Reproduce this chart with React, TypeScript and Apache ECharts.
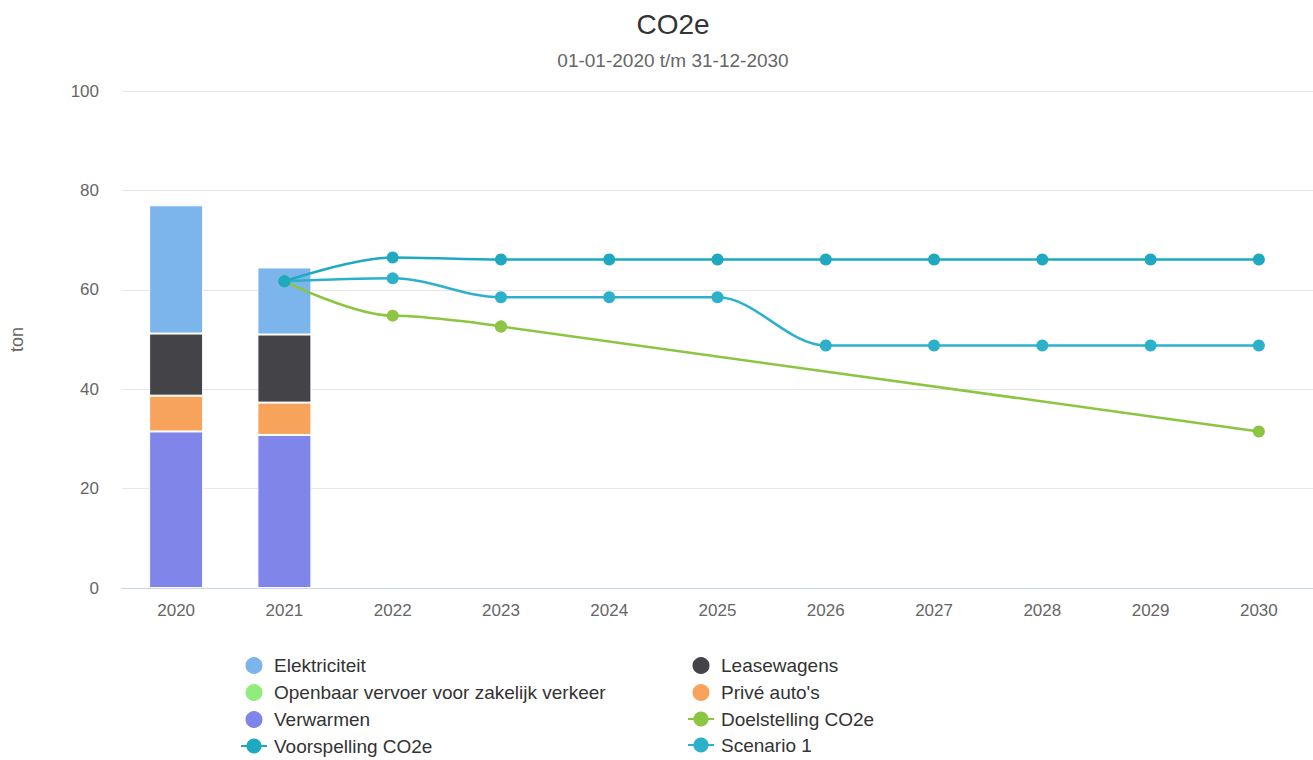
import React, { useEffect, useRef } from "react";
import * as echarts from "echarts";

const years = ["2020", "2021", "2022", "2023", "2024", "2025", "2026", "2027", "2028", "2029", "2030"];
const verwarmen = [31.5, 30.8, null, null, null, null, null, null, null, null, null];
const priveAutos = [7.2, 6.5, null, null, null, null, null, null, null, null, null];
const leasewagens = [12.5, 13.7, null, null, null, null, null, null, null, null, null];
const openbaarVervoer = [0, 0, null, null, null, null, null, null, null, null, null];
const elektriciteit = [25.8, 13.5, null, null, null, null, null, null, null, null, null];
const doelstelling = [null, 61.7, 54.8, 52.6, null, null, null, null, null, null, 31.5];
const voorspelling = [null, 61.7, 66.5, 66.1, 66.1, 66.1, 66.1, 66.1, 66.1, 66.1, 66.1];
const scenario1 = [null, 61.7, 62.3, 58.5, 58.5, 58.5, 48.8, 48.8, 48.8, 48.8, 48.8];

const COLORS = {
  elektriciteit: "#7cb5ec",
  leasewagens: "#434348",
  openbaar: "#90ed7d",
  prive: "#f7a35c",
  verwarmen: "#8085e9",
  doel: "#8bc541",
  voorspelling: "#1ea9c1",
  scenario: "#2db1cb",
};

const FONT = "Arial, Liberation Sans, sans-serif";

export default function App() {
  const ref = useRef<HTMLDivElement>(null);
  useEffect(() => {
    if (!ref.current) return;
    const chart = echarts.init(ref.current, undefined, { renderer: "svg" });
    const barBase = {
      type: "bar",
      stack: "total",
      barWidth: 54,
      itemStyle: { borderColor: "#ffffff", borderWidth: 1 },
    };
    const lineBase = {
      type: "line",
      smooth: 0.35,
      smoothMonotone: "x",
      symbol: "circle",
      symbolSize: 12,
      connectNulls: true,
      lineStyle: { width: 2.5 },
      z: 3,
    };
    // Doelstelling: smooth part up to 2023, then straight trend to 2030
    const splitIdx = 3;
    const doelSmooth = doelstelling.map((v, i) => (i <= splitIdx ? v : null));
    const doelStraight = doelstelling.map((v, i) => (i >= splitIdx ? v : null));
    const legendText = { fontSize: 19, lineHeight: 20, color: "#333333", fontFamily: FONT, padding: [0, 0, 0, 2] };
    const legendBase = {
      orient: "vertical",
      top: 655,
      height: 105,
      padding: 0,
      itemWidth: 26,
      itemHeight: 19,
      itemGap: 6,
      textStyle: legendText,
    };
    chart.setOption({
      animation: false,
      title: {
        text: "CO2e",
        subtext: "01-01-2020 t/m 31-12-2030",
        left: 668,
        textAlign: "center",
        top: 5,
        itemGap: 13,
        textStyle: { fontSize: 28, fontWeight: "normal", color: "#333333", fontFamily: FONT },
        subtextStyle: { fontSize: 19, color: "#666666", fontFamily: FONT },
      },
      legend: [
        {
          ...legendBase,
          left: 240,
          data: [
            { name: "Elektriciteit", icon: "circle" },
            { name: "Openbaar vervoer voor zakelijk verkeer", icon: "circle" },
            { name: "Verwarmen", icon: "circle" },
            { name: "Voorspelling CO2e" },
          ],
        },
        {
          ...legendBase,
          left: 687,
          data: [
            { name: "Leasewagens", icon: "circle" },
            { name: "Privé auto's", icon: "circle" },
            { name: "Doelstelling CO2e" },
            { name: "Scenario 1" },
          ],
        },
      ],
      grid: { left: 120, right: -2, top: 91, bottom: 172, containLabel: false },
      xAxis: {
        type: "category",
        data: years,
        axisLine: { lineStyle: { color: "#ccd6eb" } },
        axisTick: { show: false },
        axisLabel: { color: "#666666", fontSize: 17, margin: 14, fontFamily: FONT },
      },
      yAxis: {
        type: "value",
        min: 0,
        max: 100,
        interval: 20,
        name: "ton",
        nameLocation: "middle",
        nameGap: 96,
        nameTextStyle: { color: "#666666", fontSize: 18, fontFamily: FONT },
        axisLabel: { color: "#666666", fontSize: 17, margin: 23, fontFamily: FONT },
        splitLine: { lineStyle: { color: "#e6e6e6" } },
        axisLine: { show: false },
        axisTick: { show: false },
      },
      series: [
        { ...barBase, name: "Verwarmen", data: verwarmen, itemStyle: { ...barBase.itemStyle, color: COLORS.verwarmen } },
        { ...barBase, name: "Privé auto's", data: priveAutos, itemStyle: { ...barBase.itemStyle, color: COLORS.prive } },
        { ...barBase, name: "Leasewagens", data: leasewagens, itemStyle: { ...barBase.itemStyle, color: COLORS.leasewagens } },
        { ...barBase, name: "Openbaar vervoer voor zakelijk verkeer", data: openbaarVervoer, itemStyle: { ...barBase.itemStyle, color: COLORS.openbaar } },
        { ...barBase, name: "Elektriciteit", data: elektriciteit, itemStyle: { ...barBase.itemStyle, color: COLORS.elektriciteit } },
        { ...lineBase, name: "Doelstelling CO2e", data: doelSmooth, color: COLORS.doel, itemStyle: { color: COLORS.doel } },
        { ...lineBase, name: "Doelstelling CO2e", data: doelStraight, smooth: false, color: COLORS.doel, itemStyle: { color: COLORS.doel } },
        { ...lineBase, name: "Scenario 1", data: scenario1, color: COLORS.scenario, itemStyle: { color: COLORS.scenario } },
        { ...lineBase, name: "Voorspelling CO2e", data: voorspelling, color: COLORS.voorspelling, itemStyle: { color: COLORS.voorspelling } },
      ],
    });
    return () => chart.dispose();
  }, []);
  return (
    <div
      ref={ref}
      style={{ position: "absolute", left: 0, top: 0, width: 1313, height: 760, background: "#ffffff" }}
    />
  );
}
